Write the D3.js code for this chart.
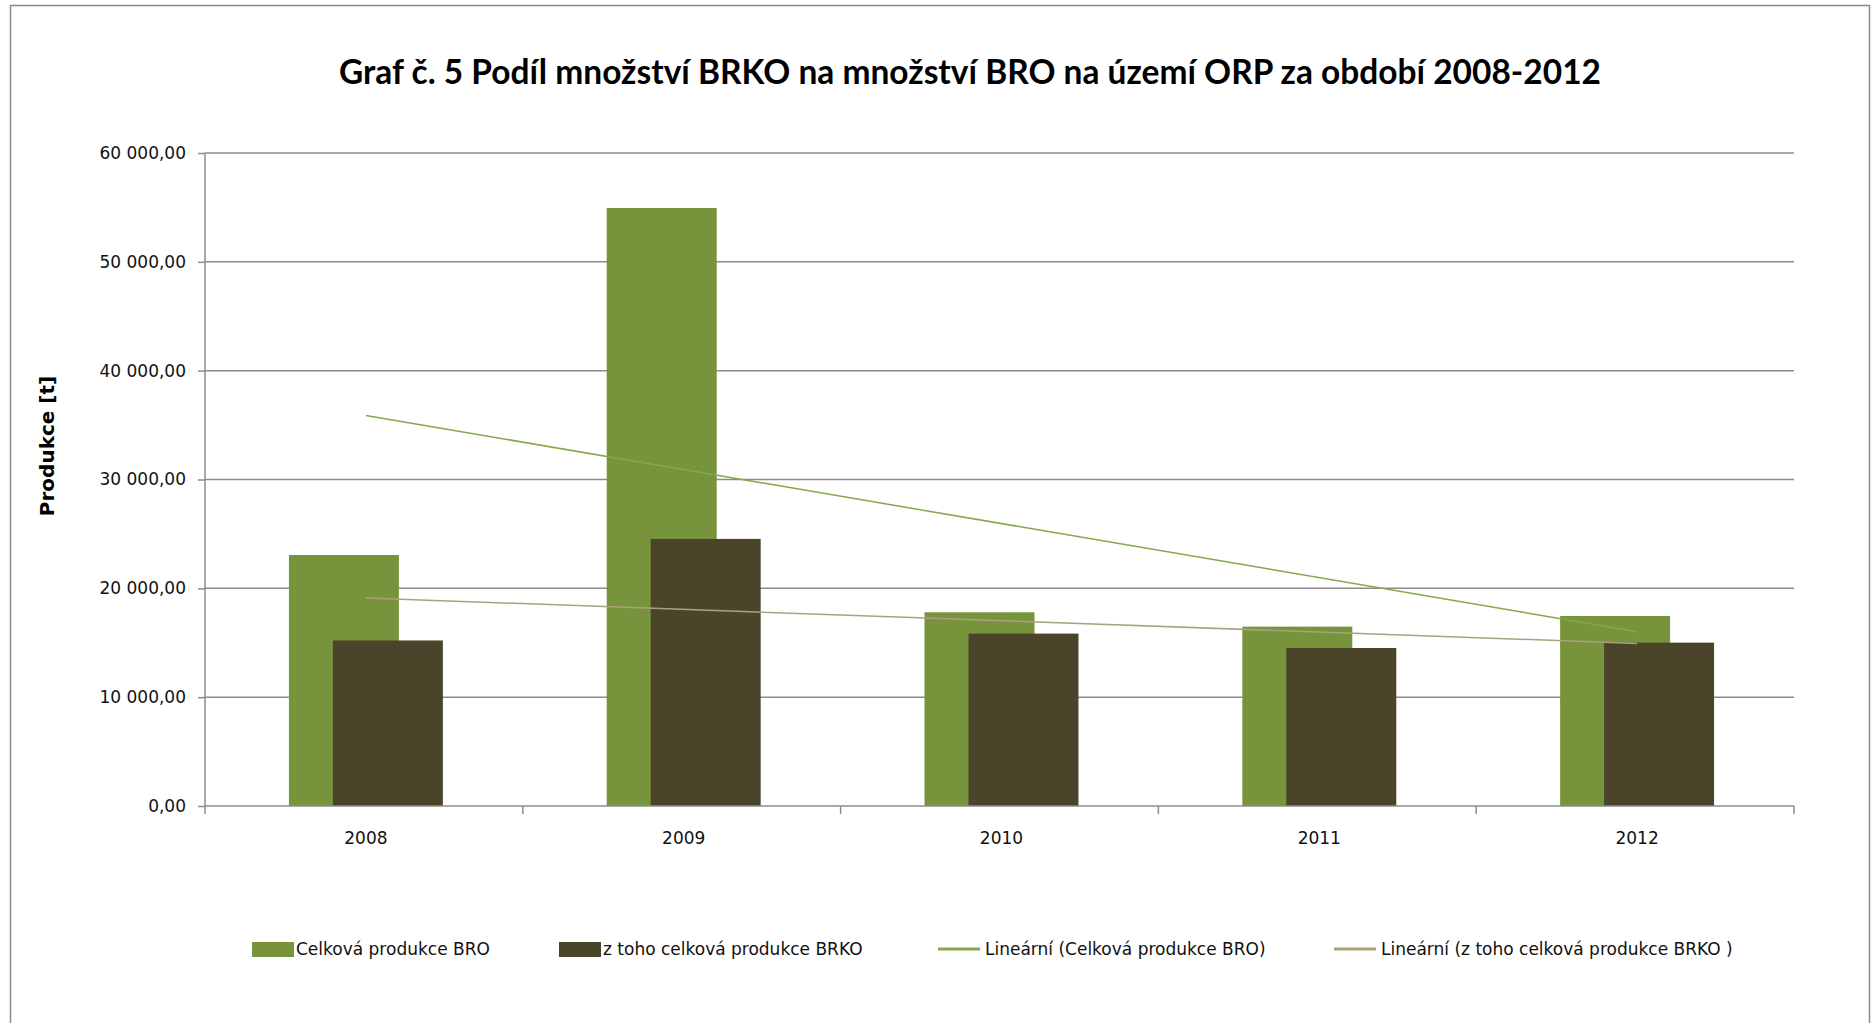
<!DOCTYPE html>
<html>
<head>
<meta charset="utf-8">
<script src="https://cdn.jsdelivr.net/npm/d3@7"></script>
<style>
    body { margin: 0; background: #fff; }
    svg { display: block; }
</style>
</head>
<body>
<script>
// Values
var years = ['2008', '2009', '2010', '2011', '2012'];
var broValues = [23060, 54950, 17800, 16480, 17460];
var brkoValues = [15210, 24540, 15840, 14520, 15010];
var yTicks = [0, 10000, 20000, 30000, 40000, 50000, 60000];
var seriesNames = ['Celková produkce BRO', 'z toho celková produkce BRKO'];
var trendNames = ['Lineární (Celková produkce BRO)', 'Lineární (z toho celková produkce BRKO )'];

var svgWidth = 1872, svgHeight = 1023;
var padding = {l: 205, r: 78, t: 153, b: 217};
var colors = {bro: '#77933c', brko: '#4a452a', broTrend: '#82a84a', brkoTrend: '#aaa27c', grid: '#8c8c8c'};

var svg = d3.select('body').append('svg')
    .attr('width', svgWidth)
    .attr('height', svgHeight);

// chart frame
svg.append('rect')
    .attr('x', 10.5).attr('y', 5.5)
    .attr('width', 1859).attr('height', 1060)
    .attr('fill', '#fff')
    .attr('stroke', '#8a8a8a')
    .attr('stroke-width', 1.5);

svg.append('text')
    .attr('x', 970)
    .attr('y', 84)
    .attr('text-anchor', 'middle')
    .attr('textLength', 1262)
    .attr('lengthAdjust', 'spacingAndGlyphs')
    .style('font-family', 'Lato, sans-serif')
    .style('font-weight', 'bold')
    .style('font-size', '35px')
    .text('Graf č. 5 Podíl množství BRKO na množství BRO na území ORP za období 2008-2012');

var x = d3.scaleBand()
    .domain(years)
    .range([padding.l, svgWidth - padding.r]);
var y = d3.scaleLinear()
    .domain([0, 60000])
    .range([svgHeight - padding.b, padding.t]);

var cs = d3.formatLocale({decimal: ',', thousands: '\u00a0', grouping: [3], currency: ['', ' Kč']});
var fmt = cs.format(',.2f');

// gridlines
svg.append('g')
    .selectAll('line')
    .data(yTicks.slice(1))
    .enter()
    .append('line')
    .attr('x1', padding.l)
    .attr('x2', svgWidth - padding.r)
    .attr('y1', function(d){ return y(d); })
    .attr('y2', function(d){ return y(d); })
    .attr('stroke', colors.grid)
    .attr('stroke-width', 1.5);

var bw = x.bandwidth() * 0.346;
var shift = bw * 0.2;
var mid = function(d){ return x(d) + x.bandwidth()/2 + 2; };

svg.append('g')
    .selectAll('rect')
    .data(years)
    .enter()
    .append('rect')
    .attr('x', function(d){ return mid(d) - shift - bw/2; })
    .attr('y', function(d, i){ return y(broValues[i]); })
    .attr('width', bw)
    .attr('height', function(d, i){ return y(0) - y(broValues[i]); })
    .attr('fill', colors.bro);

svg.append('g')
    .selectAll('rect')
    .data(years)
    .enter()
    .append('rect')
    .attr('x', function(d){ return mid(d) + shift - bw/2; })
    .attr('y', function(d, i){ return y(brkoValues[i]); })
    .attr('width', bw)
    .attr('height', function(d, i){ return y(0) - y(brkoValues[i]); })
    .attr('fill', colors.brko);

// linear trend (least squares over category index)
function trend(vals){
    var n = vals.length;
    var mx = d3.mean(vals, function(v, i){ return i; });
    var my = d3.mean(vals);
    var sxy = d3.sum(vals, function(v, i){ return (i - mx) * (v - my); });
    var sxx = d3.sum(vals, function(v, i){ return (i - mx) * (i - mx); });
    var k = sxy / sxx;
    return [0, n - 1].map(function(i){ return {i: i, v: my + k * (i - mx)}; });
}

var trendLine = d3.line()
    .x(function(d){ return mid(years[d.i]); })
    .y(function(d){ return y(d.v); });

svg.append('path')
    .attr('d', trendLine(trend(broValues)))
    .attr('fill', 'none')
    .attr('stroke', colors.broTrend)
    .attr('stroke-width', 1.5);
svg.append('path')
    .attr('d', trendLine(trend(brkoValues)))
    .attr('fill', 'none')
    .attr('stroke', colors.brkoTrend)
    .attr('stroke-width', 1.5);

// axes
var yAxis = d3.axisLeft(y).tickValues(yTicks).tickFormat(fmt).tickSize(7).tickPadding(12);
var yAxisG = svg.append('g')
    .attr('transform', 'translate(' + padding.l + ',0)')
    .call(yAxis);

var xEdges = years.map(function(d){ return x(d); }).concat([svgWidth - padding.r]);
var xAxisG = svg.append('g')
    .attr('transform', 'translate(0,' + y(0) + ')');
xAxisG.append('line')
    .attr('x1', padding.l).attr('x2', svgWidth - padding.r)
    .attr('stroke', colors.grid).attr('stroke-width', 1.5);
xAxisG.selectAll('.edge')
    .data(xEdges)
    .enter()
    .append('line')
    .attr('class', 'edge')
    .attr('x1', function(d){ return d; }).attr('x2', function(d){ return d; })
    .attr('y1', 0).attr('y2', 8)
    .attr('stroke', colors.grid).attr('stroke-width', 1.5);
xAxisG.selectAll('text')
    .data(years)
    .enter()
    .append('text')
    .attr('x', function(d){ return mid(d); })
    .attr('y', 38)
    .attr('text-anchor', 'middle')
    .style('font-family', 'DejaVu Sans, sans-serif')
    .style('font-size', '17px')
    .attr('fill', '#111')
    .text(function(d){ return d; });

yAxisG.select('.domain').attr('stroke', colors.grid).attr('stroke-width', 1.5)
    .attr('d', 'M0,' + padding.t + 'V' + y(0));
yAxisG.selectAll('.tick line').attr('stroke', colors.grid).attr('stroke-width', 1.5);
yAxisG.selectAll('.tick text')
    .style('font-family', 'DejaVu Sans, sans-serif')
    .style('font-size', '17px')
    .attr('fill', '#111');

svg.append('text')
    .attr('transform', 'translate(54,446) rotate(-90)')
    .attr('text-anchor', 'middle')
    .style('font-family', 'DejaVu Sans, sans-serif')
    .style('font-weight', 'bold')
    .style('font-size', '20px')
    .text('Produkce [t]');

// legend
var legendG = svg.append('g')
    .attr('transform', 'translate(0,949)');
var legendItems = [
    {name: seriesNames[0], color: colors.bro, type: 'rect', x: 252},
    {name: seriesNames[1], color: colors.brko, type: 'rect', x: 559},
    {name: trendNames[0], color: colors.broTrend, type: 'line', x: 938},
    {name: trendNames[1], color: colors.brkoTrend, type: 'line', x: 1334}
];
var entries = legendG.selectAll('g')
    .data(legendItems)
    .enter()
    .append('g')
    .attr('transform', function(d){ return 'translate(' + d.x + ',0)'; });
entries.each(function(d){
    var g = d3.select(this);
    if(d.type === 'rect'){
        g.append('rect')
            .attr('x', 0).attr('y', -7)
            .attr('width', 42).attr('height', 15)
            .attr('fill', d.color);
    } else {
        g.append('line')
            .attr('x1', 0).attr('x2', 42)
            .attr('stroke', d.color)
            .attr('stroke-width', 3);
    }
    g.append('text')
        .attr('x', d.type === 'rect' ? 44 : 47)
        .attr('y', 6)
        .style('font-family', 'DejaVu Sans, sans-serif')
        .style('font-size', '17px')
        .attr('fill', '#111')
        .text(d.name);
});
</script>
</body>
</html>
